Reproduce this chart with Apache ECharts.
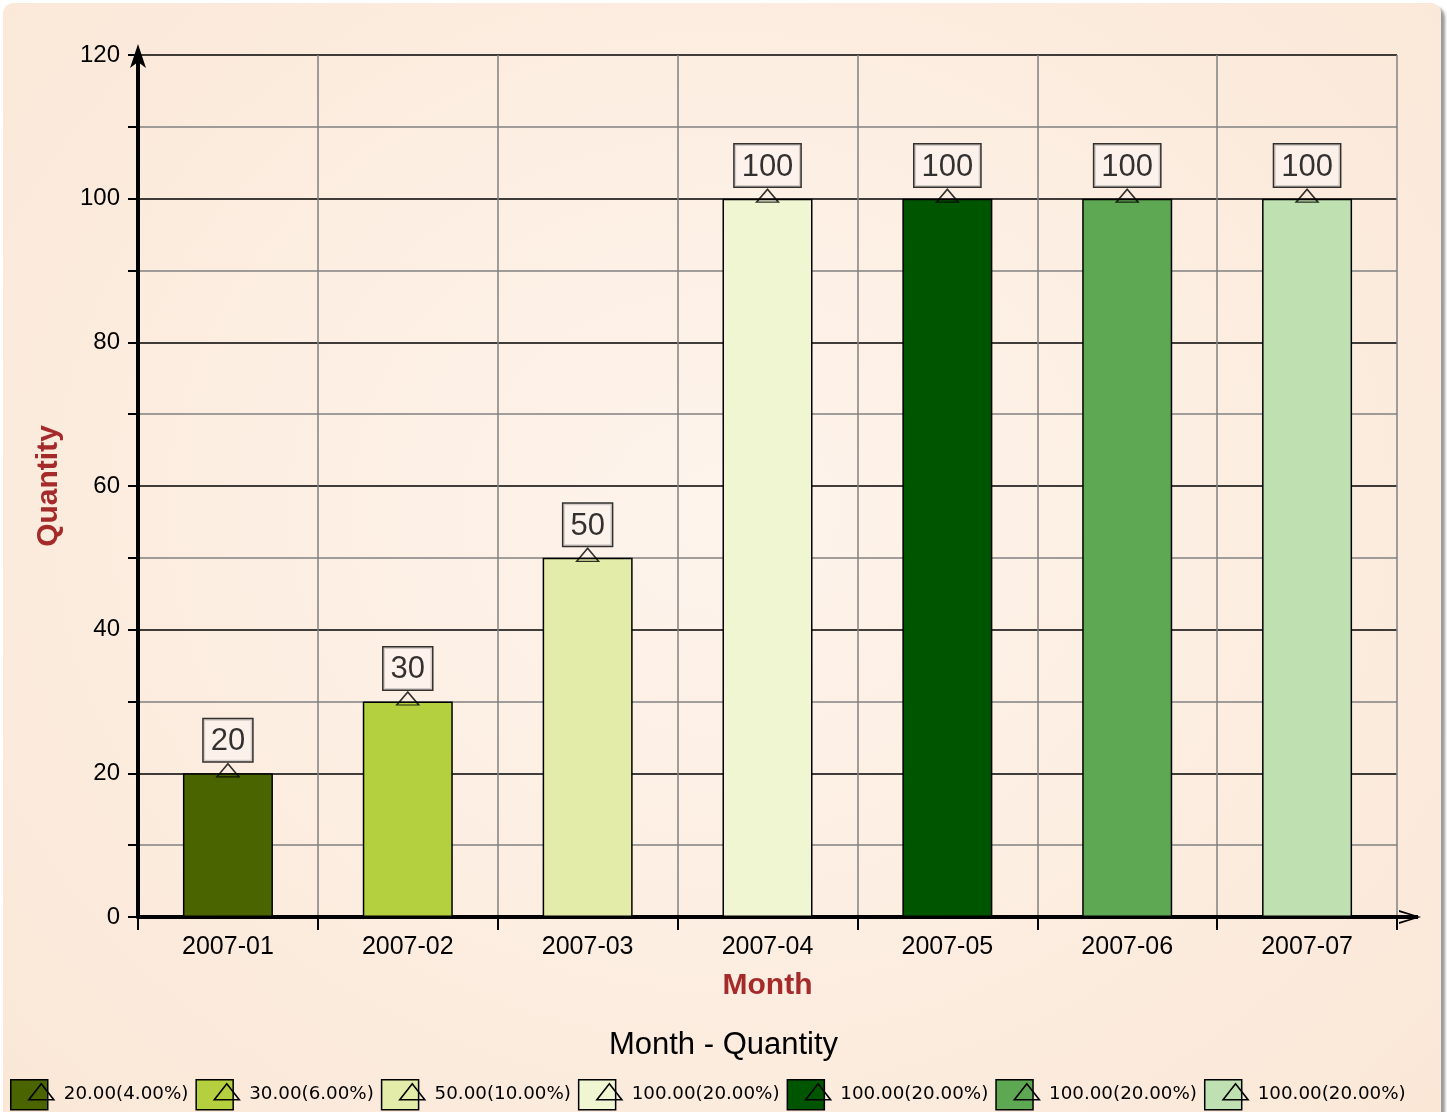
<!DOCTYPE html>
<html>
<head>
<meta charset="utf-8">
<script src="https://cdn.jsdelivr.net/npm/echarts@6/dist/echarts.min.js"></script>
<style>
  html, body { margin: 0; padding: 0; background: #ffffff; width: 1447px; height: 1112px; overflow: hidden; }
  #panel { position: absolute; left: 3px; top: 3px; width: 1438px; height: 1130px; border-radius: 10px;
           box-shadow: 4px 4px 3px #9a9a9a;
           background: radial-gradient(ellipse at 50% 45%, #fef4ec 0%, #fcede0 55%, #faE7d6 100%); }
  #chart { position: absolute; left: 0; top: 0; width: 1447px; height: 1112px; }
</style>
</head>
<body>
<div id="panel"></div>
<div id="chart"></div>
<script>
const categories = ['2007-01', '2007-02', '2007-03', '2007-04', '2007-05', '2007-06', '2007-07'];
const quantities = [20, 30, 50, 100, 100, 100, 100];
const legendLabels = ['20.00(4.00%)', '30.00(6.00%)', '50.00(10.00%)', '100.00(20.00%)', '100.00(20.00%)', '100.00(20.00%)', '100.00(20.00%)'];
const barColors = ['#4a6500', '#b4d03e', '#e3eca8', '#f0f5d2', '#005600', '#5fa853', '#bfe0b1'];
const yTicks = { min: 0, max: 120, interval: 10, labelStep: 20 };

const seriesKeys = legendLabels.map((l, i) => 's' + i);

const chart = echarts.init(document.getElementById('chart'), null, { renderer: 'canvas' });

const barSeries = categories.map((c, i) => ({
  type: 'bar',
  name: seriesKeys[i],
  data: categories.map((cc, j) => (j === i ? quantities[j] : null)),
  barWidth: 90,
  barGap: '-100%',
  itemStyle: { color: barColors[i], borderColor: '#000', borderWidth: 1.5 },
  z: 3
}));

const markerSeries = {
  type: 'scatter',
  name: 'markers',
  data: quantities,
  symbol: 'triangle',
  symbolSize: [22, 13],
  symbolOffset: [0, -3],
  itemStyle: { color: 'rgba(0,0,0,0)', borderColor: '#000', borderWidth: 1.5 },
  label: {
    show: true,
    position: 'top',
    distance: 2,
    formatter: p => String(p.value),
    fontFamily: 'Liberation Sans, Arial, sans-serif',
    fontSize: 31,
    color: '#000',
    backgroundColor: '#fdf2ed',
    borderColor: '#000',
    borderWidth: 1.5,
    padding: [7, 7, 4, 7]
  },
  z: 5,
  silent: true
};

const labelFor = name => legendLabels[seriesKeys.indexOf(name)];

const legendCommon = {
  data: seriesKeys,
  left: 10,
  top: 1079,
  padding: 0,
  itemGap: 7,
  itemWidth: 48,
  itemHeight: 30,
  selectedMode: false,
  formatter: labelFor
};

const option = {
  backgroundColor: 'transparent',
  animation: false,
  title: {
    text: 'Month - Quantity',
    left: 'center',
    top: 1030,
    padding: 0,
    textStyle: { fontFamily: 'Liberation Sans, Arial, sans-serif', fontSize: 31, fontWeight: 'normal', color: '#000' }
  },
  legend: [
    Object.assign({}, legendCommon, {
      icon: 'path://M0 0 H37 V30 H0 Z M48 30',
      itemStyle: { borderColor: '#000', borderWidth: 1.5 },
      textStyle: { fontFamily: 'DejaVu Sans', fontSize: 18.3, color: '#000' }
    }),
    Object.assign({}, legendCommon, {
      icon: 'path://M0 0 M48 30 M18 20 L30.5 4 L43 20 Z',
      itemStyle: { color: 'rgba(0,0,0,0)', borderColor: '#000', borderWidth: 1.6 },
      textStyle: { fontFamily: 'DejaVu Sans', fontSize: 18.3, color: 'rgba(0,0,0,0)' }
    })
  ],
  grid: { left: 138, right: 50, top: 55, bottom: 195, containLabel: false },
  xAxis: {
    type: 'category',
    data: categories,
    boundaryGap: true,
    name: 'Month',
    nameLocation: 'middle',
    nameGap: 54,
    nameTextStyle: { fontFamily: 'Liberation Sans, Arial, sans-serif', fontSize: 30, fontWeight: 'bold', color: '#a52a2a' },
    axisLine: {
      show: true,
      lineStyle: { color: '#000', width: 4 },
      symbol: ['none', 'path://M7 0 L14 22 L12 22 L7 4.5 L2 22 L0 22 Z M5 3 L9 3 L9 24 L5 24 Z'],
      symbolSize: [14, 24],
      symbolOffset: [0, 12]
    },
    axisTick: { show: true, alignWithLabel: false, interval: 0, length: 13, inside: false, lineStyle: { color: '#000', width: 2 } },
    axisLabel: { interval: 0, margin: 18, fontFamily: 'Liberation Sans, Arial, sans-serif', fontSize: 25, color: '#000' },
    splitLine: { show: true, interval: 0, lineStyle: { color: '#808080', width: 1.5 } }
  },
  yAxis: {
    type: 'value',
    min: yTicks.min,
    max: yTicks.max,
    interval: yTicks.interval,
    name: 'Quantity',
    nameLocation: 'middle',
    nameGap: 74,
    nameRotate: 90,
    nameTextStyle: { fontFamily: 'Liberation Sans, Arial, sans-serif', fontSize: 30, fontWeight: 'bold', color: '#a52a2a' },
    axisLine: {
      show: true,
      lineStyle: { color: '#000', width: 4 },
      symbol: ['none', 'arrow'],
      symbolSize: [12, 24],
      symbolOffset: [0, 11]
    },
    axisTick: { show: true, length: 10, inside: false, lineStyle: { color: '#000', width: 2 } },
    axisLabel: {
      margin: 18,
      fontFamily: 'Liberation Sans, Arial, sans-serif',
      fontSize: 24,
      color: '#000',
      formatter: v => (v % yTicks.labelStep === 0 ? String(v) : '')
    },
    splitLine: { show: true, lineStyle: { color: ['#000000', '#808080'], width: 1.5 } }
  },
  series: barSeries.concat([markerSeries])
};

chart.setOption(option);
</script>
</body>
</html>
